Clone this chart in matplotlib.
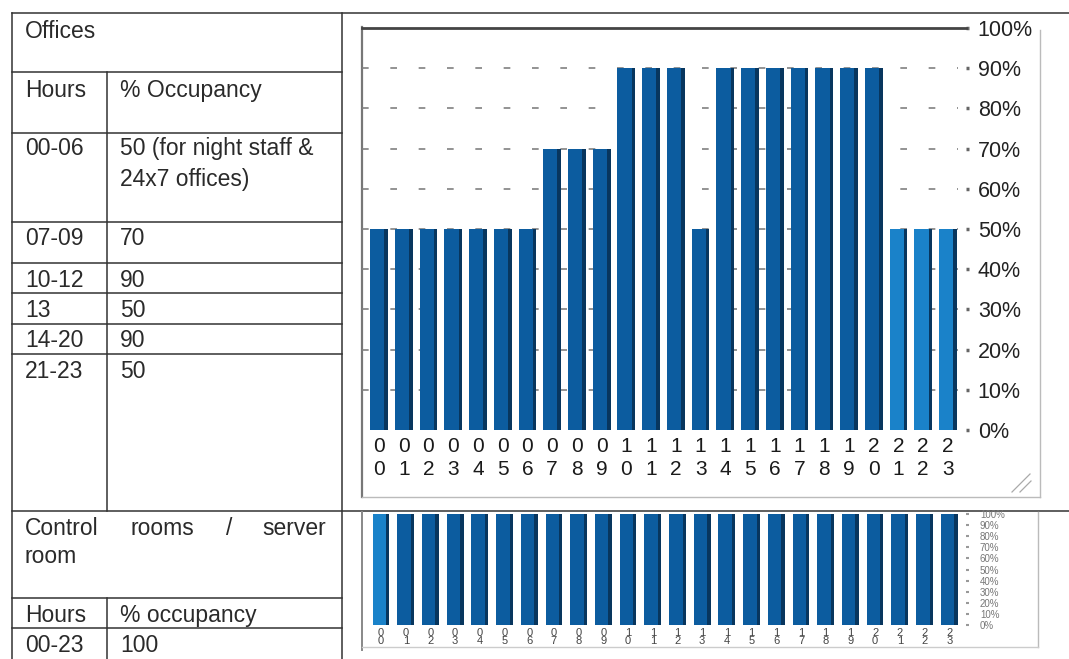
import matplotlib
matplotlib.use("Agg")
import matplotlib.pyplot as plt
from matplotlib.lines import Line2D

# ---- data read from the scanned page ----
office_title = "Offices"
office_head = ["Hours", "% Occupancy"]
office_hours = ["00-06", "07-09", "10-12", "13", "14-20", "21-23"]
office_occ = ["50 (for night staff &\n24x7 offices)", "70", "90", "50", "90", "50"]

server_title = ["Control", "rooms", "/", "server", "room"]
server_head = ["Hours", "% occupancy"]
server_hours = ["00-23"]
server_occ = ["100"]

hour_labels = ["00", "01", "02", "03", "04", "05", "06", "07", "08", "09", "10", "11",
               "12", "13", "14", "15", "16", "17", "18", "19", "20", "21", "22", "23"]
office_pct = [50, 50, 50, 50, 50, 50, 50, 70, 70, 70, 90, 90,
              90, 50, 90, 90, 90, 90, 90, 90, 90, 50, 50, 50]
server_pct = [100, 100, 100, 100, 100, 100, 100, 100, 100, 100, 100, 100,
              100, 100, 100, 100, 100, 100, 100, 100, 100, 100, 100, 100]
pct_ticks = [0, 10, 20, 30, 40, 50, 60, 70, 80, 90, 100]
pct_labels = ["0%", "10%", "20%", "30%", "40%", "50%", "60%", "70%", "80%", "90%", "100%"]

plt.rcParams['font.family'] = ['Liberation Sans', 'DejaVu Sans']

W, H = 1069, 659
fig = plt.figure(figsize=(W / 100, H / 100), dpi=100)

# page layer in pixel coordinates (y downwards)
page = fig.add_axes([0, 0, 1, 1])
page.set_xlim(0, W)
page.set_ylim(H, 0)
page.axis('off')


def px_axes(x0, y0, x1, y1):
    return fig.add_axes([x0 / W, 1 - y1 / H, (x1 - x0) / W, (y1 - y0) / H])


def seg(x0, y0, x1, y1, color='#333333', lw=1.1):
    page.add_line(Line2D([x0, x1], [y0, y1], color=color, lw=lw))


# table grid
seg(12, 13, 1069, 13)
seg(12, 511, 1069, 511)
for yy in [72, 133, 222, 263, 293, 324, 354, 598, 628]:
    seg(12, yy, 342, yy)
seg(12, 13, 12, 659)
seg(342, 13, 342, 659)
seg(107, 72, 107, 511)
seg(107, 598, 107, 659)

tcol = '#2a2a2a'
fs = 16.5
page.text(25, 38, office_title, fontsize=fs, color=tcol, va='baseline')
page.text(25, 97, office_head[0], fontsize=fs, color=tcol, va='baseline')
page.text(120, 97, office_head[1], fontsize=fs, color=tcol, va='baseline')
row_base = [155, 245, 287, 317, 347, 378]
for hrs, occ, yb in zip(office_hours, office_occ, row_base):
    page.text(25, yb, hrs, fontsize=fs, color=tcol, va='baseline')
    for i, line in enumerate(occ.split("\n")):
        page.text(120, yb + i * 31, line, fontsize=fs, color=tcol, va='baseline')

# justified title of the second block
page.text(25, 535, server_title[0], fontsize=fs, color=tcol, va='baseline')
page.text(130, 535, server_title[1], fontsize=fs, color=tcol, va='baseline')
page.text(229, 535, server_title[2], fontsize=fs, color=tcol, va='baseline', ha='center')
page.text(326, 535, server_title[3], fontsize=fs, color=tcol, va='baseline', ha='right')
page.text(25, 563, server_title[4], fontsize=fs, color=tcol, va='baseline')
page.text(25, 622, server_head[0], fontsize=fs, color=tcol, va='baseline')
page.text(120, 622, server_head[1], fontsize=fs, color=tcol, va='baseline')
page.text(25, 652, server_hours[0], fontsize=fs, color=tcol, va='baseline')
page.text(120, 652, server_occ[0], fontsize=fs, color=tcol, va='baseline')

# chart frames
seg(362, 27, 362, 497, color='#777777', lw=1.6)
seg(362, 497, 1040, 497, color='#bbbbbb', lw=1.0)
seg(1040, 30, 1040, 497, color='#bbbbbb', lw=1.0)
seg(1012, 492, 1030, 474, color='#aaaaaa', lw=0.9)
seg(1020, 492, 1031, 481, color='#aaaaaa', lw=0.9)
seg(362, 512, 362, 650, color='#888888', lw=1.4)
seg(1038, 512, 1038, 647, color='#bbbbbb', lw=1.0)
seg(362, 647, 1038, 647, color='#cccccc', lw=1.0)

dark = '#0c5c9f'
light = '#1a82c9'
shade = '#08365e'
x = list(range(len(hour_labels)))

# ---- offices chart ----
ax1 = px_axes(362, 28, 966, 430)
ax1.set_xlim(-0.687, 23.73)
ax1.set_ylim(0, 100)
ax1.patch.set_alpha(0)
bw = 0.72
cols1 = [dark] * 21 + [light] * 3
ax1.hlines(pct_ticks[1:-1], -0.687, 23.4, colors='#808080', lw=1.2,
           linestyles=(0, (4, 13)), zorder=0)
ax1.bar(x, office_pct, width=bw, color=shade, zorder=2)
ax1.bar([v - bw * 0.1 for v in x], office_pct, width=bw * 0.8, color=cols1, zorder=3)
for s in ['left', 'right', 'bottom']:
    ax1.spines[s].set_visible(False)
ax1.spines['top'].set_color('#444444')
ax1.spines['top'].set_linewidth(2)
ax1.yaxis.tick_right()
ax1.set_yticks(pct_ticks)
ax1.set_yticklabels(pct_labels)
ax1.tick_params(axis='y', length=2.5, width=2.5, color='#666666', pad=6,
                labelsize=15.5, labelcolor='#222222')
for t in ax1.get_yticklabels():
    t.set_y(t.get_position()[1])
ax1.set_xticks(x)
ax1.set_xticklabels([h[0] + "\n" + h[1] for h in hour_labels], linespacing=1.3)
ax1.tick_params(axis='x', length=0, pad=5, labelsize=15, labelcolor='#1a1a1a')

# ---- control rooms chart ----
ax2 = px_axes(362, 514, 966, 625)
ax2.set_xlim(-0.77, 23.68)
ax2.set_ylim(0, 100)
ax2.patch.set_alpha(0)
bw2 = 0.68
cols2 = [light] + [dark] * 23
ax2.bar(x, server_pct, width=bw2, color=shade, zorder=2)
ax2.bar([v - bw2 * 0.1 for v in x], server_pct, width=bw2 * 0.8, color=cols2, zorder=3)
for s in ['left', 'right', 'bottom', 'top']:
    ax2.spines[s].set_visible(False)
ax2.yaxis.tick_right()
ax2.set_yticks(pct_ticks)
ax2.set_yticklabels(pct_labels)
ax2.tick_params(axis='y', length=2, width=1.5, color='#999999', pad=8,
                labelsize=7, labelcolor='#777777')
ax2.set_xticks(x)
ax2.set_xticklabels([h[0] + "\n" + h[1] for h in hour_labels], linespacing=0.75)
ax2.tick_params(axis='x', length=0, pad=2, labelsize=8, labelcolor='#444444')

fig.savefig("out.png", dpi=100)
